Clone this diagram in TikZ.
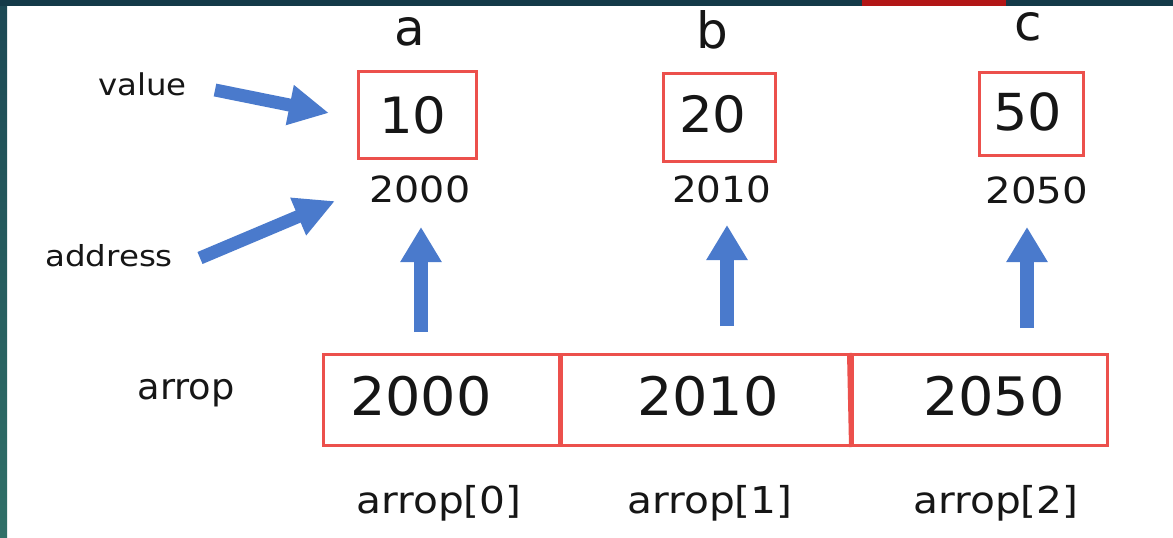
\documentclass[tikz,border=0pt]{standalone}
\usepackage{fontspec}
\setmainfont{DejaVu Sans}
\usetikzlibrary{arrows.meta}
\definecolor{redline}{RGB}{236,80,76}
\definecolor{bluearr}{RGB}{74,122,204}
\definecolor{tealA}{RGB}{28,72,84}
\definecolor{tealB}{RGB}{48,112,104}
\definecolor{topbar}{RGB}{20,58,72}
\definecolor{topred}{RGB}{178,22,22}
\definecolor{ink}{RGB}{22,22,22}
\newcommand\txt[3]{{\fontsize{#1}{#1}\selectfont\scalebox{#2}[1]{#3}}}
\begin{document}
\begin{tikzpicture}[x=1pt,y=-1pt,
  lbl/.style={anchor=base,inner sep=0pt,text=ink},
  cellbox/.style={draw=redline,line width=3pt,rectangle,inner sep=0pt},
  divider/.style={draw=redline,line width=5pt},
  fat/.style={draw=bluearr,line width=14pt,-{Triangle[length=35pt,width=39pt]}},
  thin/.style={draw=bluearr,line width=13pt,-{Triangle[length=40pt,width=38pt]}},
]
\fill[white] (0,0) rectangle (1173,538);
\useasboundingbox (0,0) rectangle (1173,538);
\shade[top color=tealA,bottom color=tealB] (0,0) rectangle (7,538);
\fill[topbar] (0,0) rectangle (1173,6);
\fill[topred] (862,0) rectangle (1006,6);

% variable names
\node[lbl] (na) at (410,45) {\txt{50}{1}{a}};
\node[lbl] (nb) at (712,48) {\txt{50}{1}{b}};
\node[lbl] (nc) at (1028,40) {\txt{50}{1}{c}};

% value boxes
\node[cellbox,minimum width=118pt,minimum height=87pt] (boxa) at (417.5,115) {};
\node[cellbox,minimum width=112pt,minimum height=88pt] (boxb) at (719.5,117.5) {};
\node[cellbox,minimum width=104pt,minimum height=83pt] (boxc) at (1031.5,114) {};
\node[lbl] (va) at (413,133) {\txt{50}{1.06}{10}};
\node[lbl] (vb) at (713,132) {\txt{50}{1.06}{20}};
\node[lbl] (vc) at (1027.5,130) {\txt{51}{1.06}{50}};

% addresses
\node[lbl] (ad0) at (420,202) {\txt{36}{1.1}{2000}};
\node[lbl] (ad1) at (721.5,202) {\txt{36}{1.08}{2010}};
\node[lbl] (ad2) at (1037,203) {\txt{36}{1.12}{2050}};

% array
\node[cellbox,minimum width=236pt,minimum height=91pt] (c0) at (441,400) {};
\node[cellbox,minimum width=293pt,minimum height=91pt] (c1) at (705.5,400) {};
\node[cellbox,minimum width=255pt,minimum height=91pt] (c2) at (979.5,400) {};
\draw[divider] (c0.north east) -- (c0.south east);
\draw[divider] ([xshift=-1pt]c2.north west) -- ([xshift=1pt]c2.south west);
\node[lbl] (t0) at (421,415) {\txt{53}{1.05}{2000}};
\node[lbl] (t1) at (708,415) {\txt{53}{1.05}{2010}};
\node[lbl] (t2) at (994,415) {\txt{53}{1.05}{2050}};

\node[lbl] (arr) at (186,399) {\txt{36}{1.02}{arrop}};
\node[lbl] (i0) at (439,513) {\txt{37}{1.1}{arrop[0]}};
\node[lbl] (i1) at (710,513) {\txt{37}{1.1}{arrop[1]}};
\node[lbl] (i2) at (996,513) {\txt{37}{1.1}{arrop[2]}};

\node[lbl] (val) at (142.5,95) {\txt{30}{1.08}{value}};
\node[lbl] (adr) at (109,266) {\txt{29}{1.12}{address}};

% arrows
\coordinate (u0s) at (421,332); \coordinate (u0e) at (421,227);
\coordinate (u1s) at (727,326); \coordinate (u1e) at (727,225);
\coordinate (u2s) at (1027,328); \coordinate (u2e) at (1027,227);
\draw[fat] (u0s) -- (u0e);
\draw[fat] (u1s) -- (u1e);
\draw[fat] (u2s) -- (u2e);
\coordinate (vs) at (215,90); \coordinate (ve) at (329,113);
\coordinate (as) at (200,258); \coordinate (ae) at (335,201);
\draw[thin] (vs) -- (ve);
\draw[thin] (as) -- (ae);
\end{tikzpicture}
\end{document}
